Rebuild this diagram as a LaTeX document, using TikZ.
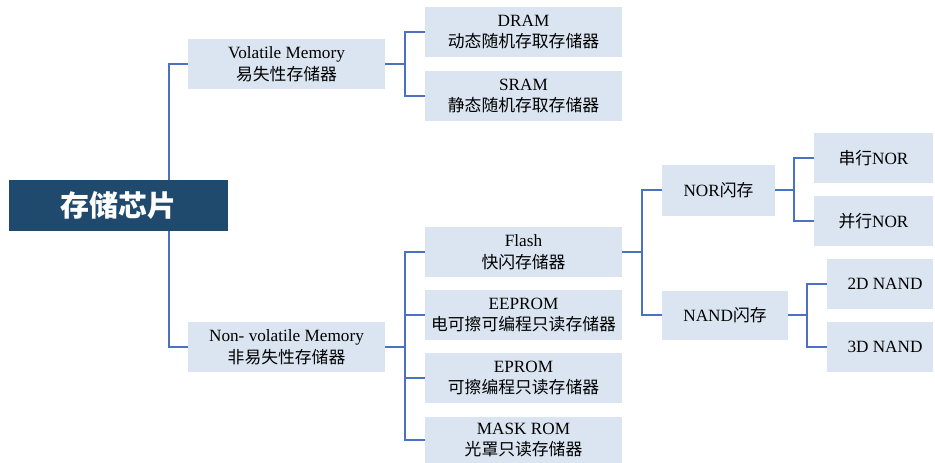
\documentclass[tikz,border=0pt]{standalone}
\usepackage{fontspec}
\setmainfont{Liberation Serif}
\newfontfamily\cjk{Noto Sans CJK SC}
\definecolor{boxfill}{HTML}{DAE5F1}
\definecolor{rootfill}{HTML}{1F4A6E}
\definecolor{linec}{HTML}{4A72C0}
\newcommand{\zh}[1]{{\cjk\fontsize{16.8}{21.5}\selectfont #1}}
\begin{document}
\begin{tikzpicture}[x=1pt,y=-1pt,
  box/.style={fill=boxfill, inner sep=0pt, align=center, minimum height=50pt,
    font=\fontsize{17.2}{21.5}\selectfont},
  rootbox/.style={fill=rootfill, text=white, inner sep=0pt, minimum width=219pt,
    minimum height=51pt, font=\cjk\bfseries\fontsize{29}{32}\selectfont},
  conn/.style={draw=linec, line width=1.4pt}]
\useasboundingbox (0,0) rectangle (935,463);
% nodes
\node[rootbox] (root) at (118.5,205.5) {存储芯片};
\node[box, minimum width=197pt] (vol) at (286.5,64) {Volatile Memory\\\zh{易失性存储器}};
\node[box, minimum width=197pt] (nv) at (286.5,347) {Non- volatile Memory\\\zh{非易失性存储器}};
\node[box, minimum width=197pt] (dram) at (523.5,32) {DRAM\\\zh{动态随机存取存储器}};
\node[box, minimum width=197pt] (sram) at (523.5,96) {SRAM\\\zh{静态随机存取存储器}};
\node[box, minimum width=197pt] (flash) at (523.5,252) {Flash\\\zh{快闪存储器}};
\node[box, minimum width=197pt] (eeprom) at (523.5,315) {EEPROM\\\zh{电可擦可编程只读存储器}};
\node[box, minimum width=197pt] (eprom) at (523.5,378) {EPROM\\\zh{可擦编程只读存储器}};
\node[box, minimum width=197pt, minimum height=47pt] (mask) at (523.5,440) {MASK ROM\\\zh{光罩只读存储器}};
\node[box, minimum width=113pt, minimum height=51pt] (nor) at (718.5,190) {NOR\zh{闪存}};
\node[box, minimum width=126pt, minimum height=49pt] (nand) at (725,315) {NAND\zh{闪存}};
\node[box, minimum width=119pt] (snor) at (873.5,158) {\zh{串行}NOR};
\node[box, minimum width=119pt] (pnor) at (873.5,221) {\zh{并行}NOR};
\node[box, minimum width=106pt] (nand2) at (880,284) {\hspace*{10pt}2D NAND};
\node[box, minimum width=106pt] (nand3) at (880,347) {\hspace*{10pt}3D NAND};
% junction columns
\coordinate (jt) at (169,0);
\coordinate (jv) at (405,0);
\coordinate (jf) at (642,0);
\coordinate (jn) at (794,0);
\coordinate (jd) at (807,0);
% connectors
\draw[conn] (root.north -| jt) |- (vol.west);
\draw[conn] (root.south -| jt) |- (nv.west);
\draw[conn] (vol.east) -- (vol.east -| jv);
\foreach \c in {dram,sram} \draw[conn] (vol.east -| jv) |- (\c.west);
\draw[conn] (nv.east) -- (nv.east -| jv);
\foreach \c in {flash,eeprom,eprom,mask} \draw[conn] (nv.east -| jv) |- (\c.west);
\draw[conn] (flash.east) -- (flash.east -| jf);
\foreach \c in {nor,nand} \draw[conn] (flash.east -| jf) |- (\c.west);
\draw[conn] (nor.east) -- (nor.east -| jn);
\foreach \c in {snor,pnor} \draw[conn] (nor.east -| jn) |- (\c.west);
\draw[conn] (nand.east) -- (nand.east -| jd);
\foreach \c in {nand2,nand3} \draw[conn] (nand.east -| jd) |- (\c.west);
\end{tikzpicture}
\end{document}
